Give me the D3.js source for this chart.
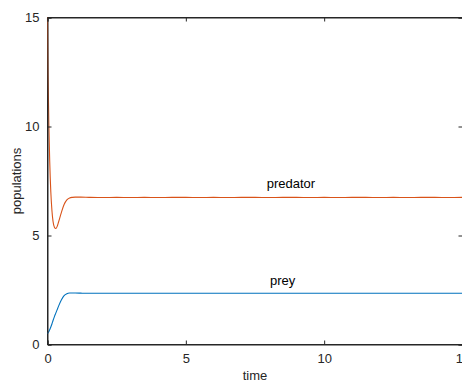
<!DOCTYPE html>
<html>
<head>
<meta charset="utf-8">
<script src="https://cdn.jsdelivr.net/npm/d3@7"></script>
<style>
  html, body { margin: 0; padding: 0; background: #fff; }
  svg { display: block; }
  text { font-family: "Liberation Sans", Arial, Helvetica, sans-serif; }
</style>
</head>
<body>
<svg id="chart" width="462" height="383"></svg>
<script>
// Predator-prey simulation output: time samples and the two populations
const time = [0, 0.02, 0.05, 0.08, 0.12, 0.16, 0.2, 0.25, 0.3, 0.35, 0.4, 0.5, 0.6, 0.7, 0.8, 0.9, 1.0, 1.2, 1.5, 2, 2.5, 3, 3.5, 4, 4.5, 5, 5.5, 6, 6.5, 7, 7.5, 8, 8.5, 9, 9.5, 10, 10.5, 11, 11.5, 12, 12.5, 13, 13.5, 14, 14.5, 15];
const predator = [15, 12.4, 10.0, 8.4, 7.0, 6.15, 5.65, 5.38, 5.32, 5.42, 5.62, 6.05, 6.42, 6.63, 6.72, 6.75, 6.76, 6.76, 6.75, 6.74, 6.75, 6.74, 6.75, 6.74, 6.75, 6.75, 6.74, 6.75, 6.74, 6.75, 6.75, 6.74, 6.75, 6.75, 6.74, 6.75, 6.74, 6.75, 6.75, 6.74, 6.75, 6.74, 6.75, 6.75, 6.74, 6.75];
const prey = [0.5, 0.54, 0.6, 0.68, 0.8, 0.94, 1.1, 1.28, 1.44, 1.6, 1.76, 2.04, 2.24, 2.33, 2.36, 2.365, 2.36, 2.355, 2.35, 2.35, 2.35, 2.35, 2.35, 2.35, 2.35, 2.35, 2.35, 2.35, 2.35, 2.35, 2.35, 2.35, 2.35, 2.35, 2.35, 2.35, 2.35, 2.35, 2.35, 2.35, 2.35, 2.35, 2.35, 2.35, 2.35, 2.35];

const xTicks = [0, 5, 10, 15];
const yTicks = [0, 5, 10, 15];
const seriesLabels = [
  { text: "predator", t: 8.8, v: 7.2 },
  { text: "prey", t: 8.5, v: 2.75 }
];

const axisColor = "#262626";
const colors = { predator: "#D95319", prey: "#0072BD" };

const svg = d3.select("#chart");
const plotLeft = 47.5, plotRight = 462.5, plotTop = 17.5, plotBottom = 344.5;

const x = d3.scaleLinear().domain([0, 15]).range([plotLeft, plotRight]);
const y = d3.scaleLinear().domain([0, 15]).range([plotBottom, plotTop]);

// Box outline
svg.append("rect")
  .attr("x", plotLeft).attr("y", plotTop)
  .attr("width", plotRight - plotLeft).attr("height", plotBottom - plotTop)
  .attr("fill", "none").attr("stroke", axisColor).attr("stroke-width", 1);

// Data lines
const line = d3.line()
  .x((d, i) => x(time[i]))
  .y(d => y(d))
  .curve(d3.curveMonotoneX);

svg.append("path").datum(prey)
  .attr("d", line).attr("fill", "none")
  .attr("stroke", colors.prey).attr("stroke-width", 1.1);
svg.append("path").datum(predator)
  .attr("d", line).attr("fill", "none")
  .attr("stroke", colors.predator).attr("stroke-width", 1.1);

// Axes with inward ticks on all four sides
const tickLen = 4;
const bottomAxis = d3.axisBottom(x).tickValues(xTicks).tickSize(-tickLen).tickPadding(9).tickFormat(d3.format("d"));
const leftAxis = d3.axisLeft(y).tickValues(yTicks).tickSize(-tickLen).tickPadding(8).tickFormat(d3.format("d"));
const topAxis = d3.axisTop(x).tickValues(xTicks).tickSize(-tickLen).tickFormat("");
const rightAxis = d3.axisRight(y).tickValues(yTicks).tickSize(-tickLen).tickFormat("");

function styleAxis(g) {
  g.select(".domain").attr("stroke", axisColor);
  g.selectAll(".tick line").attr("stroke", axisColor);
  g.selectAll(".tick text").attr("fill", axisColor)
    .style("font-size", "13px")
    .style("font-family", '"Liberation Sans", Arial, sans-serif');
}

svg.append("g").attr("transform", `translate(0,${plotBottom})`).call(bottomAxis).call(styleAxis);
svg.append("g").attr("transform", `translate(${plotLeft},0)`).call(leftAxis).call(styleAxis);
svg.append("g").attr("transform", `translate(0,${plotTop})`).call(topAxis).call(styleAxis);
svg.append("g").attr("transform", `translate(${plotRight},0)`).call(rightAxis).call(styleAxis);

// Axis titles
svg.append("text")
  .attr("x", (plotLeft + plotRight) / 2).attr("y", 380)
  .attr("text-anchor", "middle").attr("fill", axisColor)
  .style("font-size", "13px").text("time");
svg.append("text")
  .attr("transform", `translate(21,${(plotTop + plotBottom) / 2}) rotate(-90)`)
  .attr("text-anchor", "middle").attr("fill", axisColor)
  .style("font-size", "13px").text("populations");

// In-plot series labels
svg.selectAll(".series-label").data(seriesLabels).enter().append("text")
  .attr("class", "series-label")
  .attr("x", d => x(d.t)).attr("y", d => y(d.v))
  .attr("text-anchor", "middle").attr("fill", "#000")
  .style("font-size", "13px")
  .text(d => d.text);
</script>
</body>
</html>
